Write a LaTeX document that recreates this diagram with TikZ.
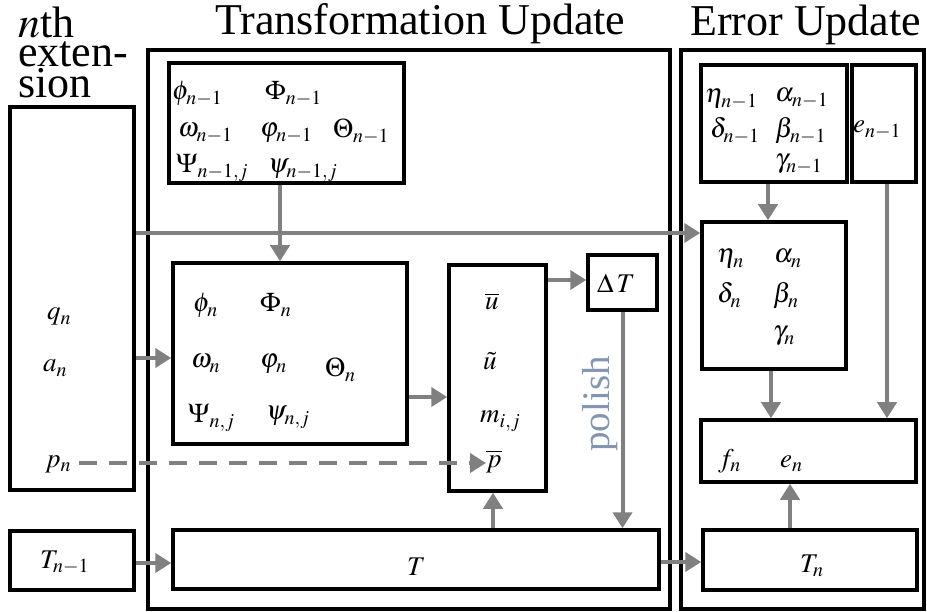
\documentclass[tikz,border=0pt]{standalone}
\usepackage{mathptmx}
\usepackage{fontspec}
\setmainfont{Liberation Serif}
\usepackage{tikz}
\usetikzlibrary{arrows.meta}
\usetikzlibrary{positioning}
\definecolor{flowgray}{RGB}{128,128,128}
\definecolor{polishblue}{RGB}{130,150,178}
\tikzstyle{box}=[draw=black, line width=3.5pt, inner sep=0pt, rectangle]
\tikzstyle{stage}=[draw=black, line width=3.5pt, inner sep=0pt, rectangle]
\tikzstyle{flow}=[draw=flowgray, line width=4pt, -{Triangle[length=16pt,width=19pt]}]
\tikzstyle{sym}=[anchor=base west, inner sep=0pt, font=\fontsize{27}{28}\selectfont]
\tikzstyle{title}=[anchor=base west, inner sep=0pt, font=\fontsize{44}{30}\selectfont]

\begin{document}
\begin{tikzpicture}[x=1pt, y=-1pt]
\useasboundingbox (0,0) rectangle (927,612);
% titles
\node[title] (ttl1) at (18,38) {$n$th};
\node[title] (ttl2) at (18,67) {exten-};
\node[title] (ttl3) at (18,98) {sion};
\node[title] (ttrans) at (215,35) {Transformation Update};
\node[title] (terr) at (690,36) {Error Update};
% outer stages
\node[stage, minimum width=522, minimum height=559] (trans) at (409,329.5){};
\node[stage, minimum width=243, minimum height=559] (err) at (802.5,329.5){};
% boxes
\node[box, minimum width=124, minimum height=383] (ext) at (72,298.5){};
\node[box, minimum width=124, minimum height=59] (tprev) at (72,560.5){};
\node[box, minimum width=235, minimum height=120] (oldphi) at (286.5,123){};
\node[box, minimum width=234, minimum height=181] (newphi) at (290,353.5){};
\node[box, minimum width=97, minimum height=226] (ubox) at (497.5,378){};
\node[box, minimum width=69, minimum height=55] (dT) at (622.5,282.5){};
\node[box, minimum width=486, minimum height=59] (tbox) at (416,559.5){};
\node[box, minimum width=146, minimum height=117] (oldeta) at (774,123.5){};
\node[box, minimum width=64, minimum height=117] (olde) at (884,123.5){};
\node[box, minimum width=144, minimum height=147] (neweta) at (774,295.5){};
\node[box, minimum width=215, minimum height=62] (fbox) at (808.5,451){};
\node[box, minimum width=214, minimum height=60] (tn) at (810,560){};
% symbols
\node[sym] (qn) at (47,320) {$q_n$};
\node[sym] (an) at (43,372) {$a_n$};
\node[sym] (pn) at (45,467) {$p_n$};
\node[sym] (tnm) at (40,568) {$T_{n-1}$};
\node[sym] (phio) at (172,100) {$\phi_{n-1}$};
\node[sym] (Phio) at (265,100) {$\Phi_{n-1}$};
\node[sym] (omo) at (178,137) {$\omega_{n-1}$};
\node[sym] (vpo) at (260,137) {$\varphi_{n-1}$};
\node[sym] (Tho) at (333,138) {$\Theta_{n-1}$};
\node[sym] (Pso) at (176,173) {$\Psi_{n-1,j}$};
\node[sym] (pso) at (268,173) {$\psi_{n-1,j}$};
\node[sym] (phin) at (193,312) {$\phi_n$};
\node[sym] (Phin) at (260,312) {$\Phi_n$};
\node[sym] (omn) at (191,368) {$\omega_n$};
\node[sym] (vpn) at (260,368) {$\varphi_n$};
\node[sym] (Thn) at (325,377) {$\Theta_n$};
\node[sym] (Psn) at (188,423) {$\Psi_{n,j}$};
\node[sym] (psn) at (266,420) {$\psi_{n,j}$};
\node[sym] (ubar) at (485,310) {$\overline{u}$};
\node[sym] (util) at (483,370) {$\tilde{u}$};
\node[sym] (mij) at (480,423) {$m_{i,j}$};
\node[sym] (pbar) at (486,467) {$\overline{p}$};
\node[sym] (dTl) at (597,293) {$\Delta\,T$};
\node[sym] (Tl) at (407,575) {$T$};
\node[sym] (etao) at (705,103) {$\eta_{n-1}$};
\node[sym] (alo) at (775,102) {$\alpha_{n-1}$};
\node[sym] (deo) at (710,138) {$\delta_{n-1}$};
\node[sym] (beo) at (775,138) {$\beta_{n-1}$};
\node[sym] (gao) at (775,168) {$\gamma_{n-1}$};
\node[sym] (eo) at (853,133) {$e_{n-1}$};
\node[sym] (etan) at (717,263) {$\eta_n$};
\node[sym] (aln) at (774,263) {$\alpha_n$};
\node[sym] (den) at (717,303) {$\delta_n$};
\node[sym] (ben) at (773,303) {$\beta_n$};
\node[sym] (gan) at (773,340) {$\gamma_n$};
\node[sym] (fn) at (718,467) {$f_n$};
\node[sym] (en) at (780,467) {$e_n$};
\node[sym] (Tnl) at (800,572) {$T_n$};
\node[rotate=90, text=polishblue, inner sep=0pt, font=\fontsize{39}{39}\selectfont] (polish) at (600,404) {polish};
% connectors
\draw[flow] (ext.east |- 0,233) -- (neweta.west |- 0,233);
\draw[flow] (ext.east |- 0,358) -- (newphi.west |- 0,358);
\draw[flow] (oldphi.south -| 280,0) -- (newphi.north -| 280,0);
\draw[flow] (newphi.east |- 0,397) -- (ubox.west |- 0,397);
\draw[flow, dash pattern=on 18pt off 12pt] (pn.east |- 0,463) ++(8,0) -- (pbar.west |- 0,463);
\draw[flow] (tprev.east |- 0,563) -- (tbox.west |- 0,563);
\draw[flow] (tbox.north -| 493,0) -- (ubox.south -| 493,0);
\draw[flow] (ubox.east |- 0,280) -- (dT.west |- 0,280);
\draw[flow] (dT.south) -- (tbox.north -| dT.south);
\draw[flow] (tbox.east |- 0,562) -- (tn.west |- 0,562);
\draw[flow] (oldeta.south -| 768,0) -- (neweta.north -| 768,0);
\draw[flow] (olde.south -| 887,0) -- (fbox.north -| 887,0);
\draw[flow] (neweta.south -| 771,0) -- (fbox.north -| 771,0);
\draw[flow] (tn.north -| 790,0) -- (fbox.south -| 790,0);
\end{tikzpicture}
\end{document}
